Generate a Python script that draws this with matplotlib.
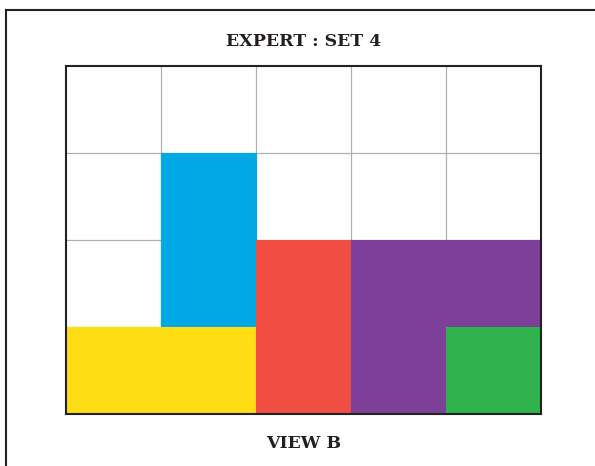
import numpy as np
import matplotlib
matplotlib.use("Agg")
import matplotlib.pyplot as plt
from matplotlib.lines import Line2D

# puzzle board, rows listed top to bottom, None = empty cell
n_rows = 4
n_cols = 5
board = [
    [None, None, None, None, None],
    [None, "blue", None, None, None],
    [None, "blue", "red", "purple", "purple"],
    ["yellow", "yellow", "red", "purple", "green"],
]
palette = {
    "blue": "#00a9e6",
    "red": "#f04d43",
    "purple": "#7d3f98",
    "yellow": "#ffdd15",
    "green": "#30b34c",
}
title = "EXPERT : SET 4"
caption = "VIEW B"

W, H = 595, 466
fig = plt.figure(figsize=(W / 100, H / 100), dpi=100)
ax = fig.add_axes([66 / W, (H - 414) / H, (541 - 66) / W, (414 - 66) / H])
ax.set_xlim(0, n_cols)
ax.set_ylim(0, n_rows)

# thin grey grid under the pieces
for c in range(1, n_cols):
    ax.axvline(c, color="#b0b0b0", lw=0.9, zorder=1)
for r in range(1, n_rows):
    ax.axhline(r, color="#b0b0b0", lw=0.9, zorder=1)

# coloured cells
for i, row in enumerate(board):
    y = n_rows - 1 - i
    for c, name in enumerate(row):
        if name is None:
            continue
        col = palette[name]
        ax.bar(c, 1, width=1, bottom=y, align="edge", color=col,
               edgecolor=col, linewidth=0.8, zorder=2)

ax.set_xticks([])
ax.set_yticks([])
for s in ax.spines.values():
    s.set_color("#222222")
    s.set_linewidth(1.5)
    s.set_zorder(5)

# outer frame (only top and left fall inside the picture)
fig.add_artist(Line2D([6 / W, 1.0], [1 - 9.5 / H, 1 - 9.5 / H],
                      transform=fig.transFigure, color="#222222", lw=1.5))
fig.add_artist(Line2D([6 / W, 6 / W], [0.0, 1 - 9.5 / H],
                      transform=fig.transFigure, color="#222222", lw=1.5))

fig.text(303.5 / W, 1 - 42 / H, title, ha="center", va="center",
         fontsize=12.5, fontweight="bold", family="DejaVu Serif", color="#231f20")
fig.text(303.5 / W, 1 - 444 / H, caption, ha="center", va="center",
         fontsize=12.5, fontweight="bold", family="DejaVu Serif", color="#231f20")

fig.savefig("out.png", dpi=100, facecolor="white")
